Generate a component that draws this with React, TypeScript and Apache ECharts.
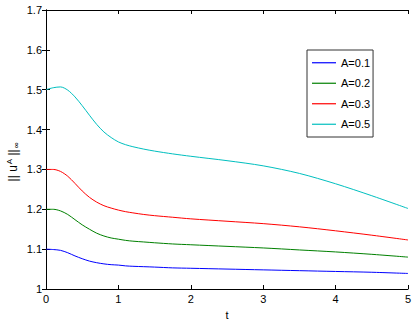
import React, { useEffect, useRef } from "react";
import * as echarts from "echarts";

const tValues = [0, 0.1, 0.2, 0.3, 0.4, 0.5, 0.6, 0.7, 0.8, 0.9, 1.0, 1.1, 1.2, 1.35, 1.5, 1.75, 2.0, 2.5, 3.0, 3.5, 4.0, 4.5, 5];
const a01 = [1.1, 1.099, 1.097, 1.091, 1.083, 1.076, 1.07, 1.066, 1.063, 1.061, 1.06, 1.058, 1.057, 1.056, 1.055, 1.053, 1.052, 1.05, 1.048, 1.046, 1.044, 1.042, 1.039];
const a02 = [1.2, 1.2, 1.196, 1.187, 1.174, 1.161, 1.15, 1.14, 1.133, 1.128, 1.125, 1.122, 1.12, 1.118, 1.116, 1.113, 1.111, 1.107, 1.103, 1.098, 1.093, 1.087, 1.08];
const a03 = [1.3, 1.3, 1.295, 1.283, 1.265, 1.246, 1.23, 1.218, 1.209, 1.203, 1.198, 1.194, 1.191, 1.187, 1.184, 1.18, 1.176, 1.17, 1.164, 1.156, 1.146, 1.135, 1.123];
const a05 = [1.5, 1.505, 1.507, 1.499, 1.482, 1.46, 1.436, 1.413, 1.394, 1.38, 1.369, 1.362, 1.357, 1.351, 1.346, 1.339, 1.333, 1.322, 1.309, 1.29, 1.264, 1.234, 1.202];
const seriesNames = ["A=0.1", "A=0.2", "A=0.3", "A=0.5"];
const seriesValues = [a01, a02, a03, a05];
const seriesColors = ["#0000ff", "#008000", "#ff0000", "#00bfbf"];

const FONT = "Liberation Sans, Arial, sans-serif";

export default function App() {
  const ref = useRef<HTMLDivElement>(null);
  useEffect(() => {
    if (!ref.current) return;
    const chart = echarts.init(ref.current, null, { renderer: "svg" });
    const axisCommon = {
      axisLine: { show: true, lineStyle: { color: "#000", width: 1 } },
      axisTick: { show: true, inside: true, length: 4, lineStyle: { color: "#000" } },
      splitLine: { show: false },
    };
    chart.setOption({
      animation: false,
      backgroundColor: "#fff",
      textStyle: { fontFamily: FONT },
      grid: { left: 46, right: 7, top: 10, bottom: 30, containLabel: false },
      legend: {
        orient: "vertical",
        left: 307,
        top: 50,
        data: seriesNames,
        icon: "rect",
        itemWidth: 24,
        itemHeight: 1.2,
        itemGap: 7,
        padding: [6, 3, 6, 5],
        borderColor: "#333",
        borderWidth: 1,
        backgroundColor: "#fff",
        textStyle: { fontFamily: FONT, fontSize: 11, color: "#000", lineHeight: 13.5 },
      },
      xAxis: [
        {
          type: "value",
          min: 0,
          max: 5,
          interval: 1,
          name: "t",
          nameLocation: "middle",
          nameGap: 20,
          nameTextStyle: { fontFamily: FONT, fontSize: 11, color: "#000" },
          axisLabel: { color: "#000", fontSize: 11, fontFamily: FONT, margin: 4 },
          ...axisCommon,
        },
        {
          type: "value",
          position: "top",
          min: 0,
          max: 5,
          interval: 1,
          axisLabel: { show: false },
          ...axisCommon,
        },
      ],
      yAxis: [
        {
          type: "value",
          min: 1,
          max: 1.7,
          interval: 0.1,
          axisLabel: { color: "#000", fontSize: 11, fontFamily: FONT, margin: 4 },
          ...axisCommon,
        },
        {
          type: "value",
          position: "right",
          min: 1,
          max: 1.7,
          interval: 0.1,
          axisLabel: { show: false },
          ...axisCommon,
        },
      ],
      graphic: [
        {
          type: "text",
          x: 13,
          y: 162,
          rotation: Math.PI / 2,
          style: {
            text: "|| u{sup|A} ||{sub|∞}",
            fontFamily: FONT,
            fontSize: 12,
            fill: "#000",
            align: "center",
            verticalAlign: "middle",
            rich: {
              sup: { fontSize: 8, fontFamily: FONT, fill: "#000", verticalAlign: "top", padding: [0, 0, 7, 1] },
              sub: { fontSize: 8, fontFamily: FONT, fill: "#000", verticalAlign: "bottom", padding: [7, 0, 0, 1] },
            },
          },
        },
      ],
      series: seriesValues.map((vals, i) => ({
        name: seriesNames[i],
        type: "line",
        data: tValues.map((t, j) => [t, vals[j]]),
        symbol: "none",
        smooth: 0.3,
        lineStyle: { color: seriesColors[i], width: 1 },
        itemStyle: { color: seriesColors[i] },
      })),
    });
    return () => chart.dispose();
  }, []);
  return <div ref={ref} style={{ width: 415, height: 325, position: "absolute", left: 0, top: 0 }} />;
}
